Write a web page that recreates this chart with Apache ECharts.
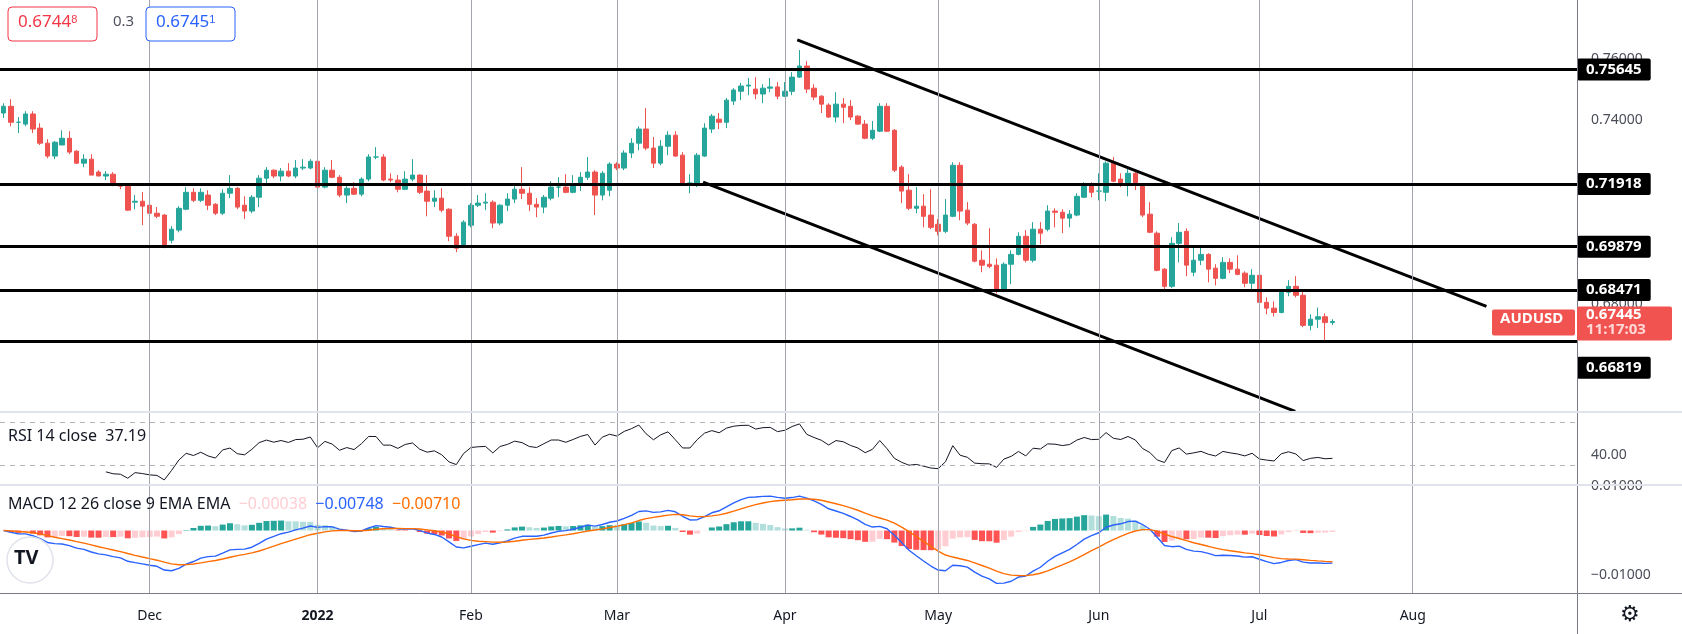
<!DOCTYPE html>
<html><head><meta charset="utf-8">
<script src="https://cdn.jsdelivr.net/npm/echarts@6/dist/echarts.min.js"></script>
<style>html,body{margin:0;padding:0;background:#fff}#c{width:1682px;height:634px}</style>
</head><body><div id="c"></div>
<script>
// ---- data: daily AUDUSD candles [open, close, low, high], from 2021-11-03 ----
const candles = [
[.7423,.7445,.7407,.7455],[.7445,.7393,.7380,.7468],[.7393,.7393,.7358,.7410],[.7387,.7420,.7380,.7429],[.7420,.7371,.7358,.7429],
[.7374,.7325,.7319,.7390],[.7325,.7283,.7276,.7338],[.7283,.7328,.7273,.7332],[.7319,.7341,.7319,.7367],[.7341,.7296,.7289,.7364],
[.7299,.7260,.7257,.7302],[.7260,.7273,.7247,.7289],[.7273,.7221,.7221,.7289],[.7231,.7218,.7218,.7237],[.7218,.7224,.7205,.7234],
[.7224,.7192,.7185,.7231],[.7192,.7185,.7175,.7195],[.7185,.7107,.7104,.7188],[.7133,.7136,.7110,.7156],[.7136,.7120,.7058,.7166],
[.7123,.7097,.7091,.7172],[.7097,.7087,.7081,.7117],[.7091,.6993,.6983,.7094],[.7009,.7045,.6999,.7055],[.7042,.7113,.7035,.7120],
[.7110,.7165,.7107,.7182],[.7165,.7139,.7133,.7178],[.7139,.7165,.7133,.7178],[.7156,.7123,.7107,.7172],[.7126,.7097,.7091,.7130],
[.7097,.7162,.7091,.7175],[.7162,.7178,.7146,.7221],[.7178,.7117,.7110,.7182],[.7123,.7104,.7078,.7152],[.7104,.7149,.7097,.7156],
[.7149,.7211,.7117,.7221],[.7211,.7237,.7192,.7247],[.7237,.7218,.7211,.7240],[.7218,.7234,.7201,.7244],[.7234,.7218,.7214,.7260],
[.7218,.7244,.7211,.7270],[.7244,.7247,.7237,.7273],[.7244,.7266,.7240,.7273],[.7266,.7182,.7178,.7270],[.7182,.7237,.7178,.7247],
[.7237,.7214,.7211,.7270],[.7214,.7156,.7149,.7221],[.7156,.7178,.7130,.7192],[.7178,.7159,.7156,.7198],[.7159,.7208,.7152,.7214],
[.7208,.7280,.7201,.7289],[.7280,.7280,.7273,.7312],[.7280,.7205,.7201,.7289],[.7208,.7205,.7198,.7227],[.7205,.7175,.7165,.7221],
[.7175,.7208,.7172,.7234],[.7208,.7221,.7201,.7273],[.7221,.7165,.7159,.7224],[.7169,.7136,.7087,.7221],[.7136,.7146,.7117,.7172],
[.7146,.7107,.7100,.7178],[.7110,.7022,.7006,.7113],[.7022,.6983,.6970,.7032],[.6990,.7068,.6986,.7074],[.7058,.7123,.7051,.7130],
[.7123,.7130,.7117,.7156],[.7130,.7133,.7107,.7162],[.7133,.7065,.7048,.7139],[.7065,.7123,.7058,.7126],[.7123,.7143,.7104,.7162],
[.7143,.7175,.7130,.7185],[.7175,.7162,.7143,.7247],[.7162,.7126,.7104,.7182],[.7126,.7117,.7084,.7146],[.7117,.7149,.7097,.7156],
[.7146,.7182,.7139,.7201],[.7182,.7182,.7149,.7214],[.7182,.7165,.7162,.7224],[.7165,.7188,.7162,.7221],[.7188,.7214,.7169,.7231],
[.7214,.7231,.7205,.7280],[.7231,.7156,.7091,.7237],[.7156,.7227,.7139,.7234],[.7172,.7257,.7152,.7263],[.7257,.7244,.7237,.7263],
[.7244,.7293,.7237,.7302],[.7293,.7325,.7276,.7341],[.7325,.7371,.7302,.7380],[.7371,.7309,.7302,.7439],[.7309,.7260,.7244,.7345],
[.7260,.7315,.7253,.7335],[.7315,.7351,.7286,.7364],[.7351,.7283,.7280,.7364],[.7286,.7195,.7188,.7296],[.7195,.7195,.7162,.7224],
[.7195,.7286,.7182,.7293],[.7283,.7374,.7280,.7390],[.7371,.7413,.7358,.7420],[.7403,.7393,.7371,.7423],[.7393,.7465,.7374,.7472],
[.7462,.7498,.7449,.7504],[.7494,.7511,.7465,.7521],[.7511,.7514,.7481,.7537],[.7501,.7485,.7468,.7540],[.7485,.7504,.7455,.7517],
[.7504,.7508,.7491,.7537],[.7508,.7478,.7468,.7524],[.7478,.7494,.7475,.7524],[.7494,.7540,.7481,.7556],[.7540,.7576,.7537,.7628],
[.7576,.7501,.7488,.7592],[.7504,.7475,.7465,.7517],[.7478,.7452,.7423,.7481],[.7449,.7410,.7407,.7455],[.7410,.7452,.7393,.7491],
[.7452,.7442,.7390,.7472],[.7445,.7410,.7400,.7465],[.7413,.7387,.7384,.7416],[.7387,.7341,.7338,.7400],[.7341,.7367,.7335,.7397],
[.7364,.7445,.7361,.7455],[.7445,.7364,.7361,.7455],[.7367,.7237,.7231,.7371],[.7247,.7169,.7130,.7253],[.7172,.7113,.7107,.7224],
[.7113,.7120,.7097,.7182],[.7120,.7087,.7051,.7159],[.7091,.7051,.7045,.7175],[.7061,.7038,.7025,.7078],[.7038,.7091,.7032,.7143],
[.7087,.7253,.7084,.7263],[.7253,.7104,.7074,.7263],[.7107,.7065,.7058,.7133],[.7061,.6941,.6937,.7065],[.6944,.6928,.6905,.6976],
[.6931,.6924,.6918,.7048],[.6928,.6843,.6836,.6950],[.6843,.6931,.6840,.6937],[.6931,.6963,.6866,.6976],[.6963,.7022,.6960,.7035],
[.7022,.6944,.6937,.7042],[.6944,.7045,.6937,.7068],[.7045,.7032,.6996,.7068],[.7045,.7104,.7038,.7123],[.7104,.7100,.7051,.7113],
[.7100,.7081,.7032,.7110],[.7081,.7094,.7051,.7107],[.7091,.7152,.7087,.7162],[.7149,.7188,.7146,.7198],[.7188,.7165,.7149,.7198],
[.7169,.7169,.7139,.7227],[.7165,.7260,.7136,.7266],[.7260,.7201,.7198,.7280],[.7208,.7188,.7182,.7227],[.7188,.7227,.7152,.7244],
[.7227,.7192,.7172,.7234],[.7192,.7091,.7084,.7195],[.7094,.7035,.7032,.7133],[.7032,.6911,.6908,.7038],[.6915,.6859,.6846,.6918],
[.6859,.6999,.6853,.7019],[.6999,.7035,.6937,.7065],[.7038,.6928,.6892,.7048],[.6905,.6944,.6892,.6990],[.6944,.6963,.6928,.6990],
[.6963,.6915,.6872,.6967],[.6918,.6885,.6862,.6931],[.6885,.6937,.6882,.6954],[.6937,.6915,.6902,.6950],[.6915,.6898,.6895,.6960],
[.6902,.6869,.6856,.6908],[.6869,.6895,.6849,.6915],[.6895,.6807,.6781,.6902],[.6807,.6788,.6768,.6823],[.6788,.6774,.6761,.6810],
[.6774,.6840,.6771,.6850],[.6840,.6859,.6827,.6879],[.6859,.6830,.6823,.6892],[.6830,.6732,.6726,.6846],[.6732,.6752,.6716,.6768],
[.6752,.6760,.6723,.6790],[.6760,.6741,.6683,.6771],[.6741,.67445,.6733,.6752]
];
const levels = [0.75645, 0.71918, 0.69879, 0.68471, 0.66819];
const upperTrend = [[108.7, 0.7661], [203.1, 0.6794]];
const lowerTrend = [[95.8, 0.7198], [176.9, 0.6452]];
const priceTicks = [0.78, 0.76, 0.74, 0.72, 0.70, 0.68, 0.66];
const rsiTicks = [40];
const macdTicks = [0.01, -0.01];
const monthNames = ['Jan','Feb','Mar','Apr','May','Jun','Jul','Aug','Sep','Oct','Nov','Dec'];
const lastPrice = 0.67445;
const rsiLast = '37.19';
const macdLegend = ['−0.00038', '−0.00748', '−0.00710'];

// ---- categories (weekdays) ----
const N = 216;
const dates = [];
{ let t = Date.UTC(2021, 10, 3);
  while (dates.length < N) { const d = new Date(t); const w = d.getUTCDay();
    if (w !== 0 && w !== 6) dates.push(d); t += 86400000; } }
const cats = dates.map(d => d.toISOString().slice(0,10));
const monthStarts = [];
for (let i = 1; i < N; i++) if (dates[i].getUTCMonth() !== dates[i-1].getUTCMonth()) monthStarts.push(i);
const msSet = new Set(monthStarts);

// ---- indicators derived from closes ----
const closes = candles.map(c => c[1]);
function ema(arr, n){ const a = 2/(n+1); const out=[]; let e=arr[0]; for (let i=0;i<arr.length;i++){ e = i===0?arr[0]:a*arr[i]+(1-a)*e; out.push(e);} return out; }
const e12 = ema(closes,12), e26 = ema(closes,26);
const macd = closes.map((_,i)=>e12[i]-e26[i]);
const sig = ema(macd,9);
const hist = macd.map((m,i)=>m-sig[i]);
const rsi = [];
{ let ag=0, al=0;
  for (let i=0;i<closes.length;i++){
    if (i===0){ rsi.push(null); continue; }
    const ch = closes[i]-closes[i-1], g=Math.max(ch,0), l=Math.max(-ch,0);
    if (i<=14){ ag+=g/14; al+=l/14; rsi.push(i===14? 100-100/(1+ag/al) : null); }
    else { ag=(ag*13+g)/14; al=(al*13+l)/14; rsi.push(100-100/(1+ag/al)); }
  } }
const histData = hist.map((h,i)=>{
  const prev = i>0?hist[i-1]:h; let col;
  if (h>=0) col = h>=prev ? '#26a69a' : '#b2dfdb'; else col = h<prev ? '#ff5252' : '#ffcdd2';
  return {value:h, itemStyle:{color:col}};
});

const FONT = 'Noto Sans';
const L = 0, R = 105;
const grids = [
  {left:L, right:R, top:0, height:412},
  {left:L, right:R, top:412, height:73},
  {left:L, right:R, top:485, height:108}
];
const catAxis = (gi, show) => ({
  type:'category', gridIndex:gi, data:cats, boundaryGap:true,
  axisLine:{show:false}, axisTick:{show:false}, splitLine:{show:false},
  axisLabel: show ? {show:true, interval:(i)=>msSet.has(i), margin:16, color:'#131722', fontSize:14, fontFamily:FONT,
    formatter:(v)=>{ const d=new Date(v+'T00:00:00Z'); return d.getUTCMonth()===0 ? '{b|'+d.getUTCFullYear()+'}' : monthNames[d.getUTCMonth()]; },
    rich:{b:{fontWeight:'bold', fontSize:14, color:'#131722', fontFamily:FONT}}} : {show:false}
});
const vLines = (gi) => ({
  type:'line', xAxisIndex:gi, yAxisIndex:gi, data:[], silent:true, symbol:'none',
  markLine:{silent:true, symbol:'none', label:{show:false}, lineStyle:{color:'#a3a6af', width:1, type:'solid'},
    data: monthStarts.map(i=>({xAxis:i}))}, z:1
});
const tickFmt = (ticks, digits) => (v) => ticks.some(t=>Math.abs(t-v)<1e-9) ? (v<0?'−':'')+Math.abs(v).toFixed(digits) : '';

const chart = echarts.init(document.getElementById('c'), null, {renderer:'canvas'});
const option = {
  animation:false, backgroundColor:'#fff',
  grid: grids,
  xAxis: [catAxis(0,false), catAxis(1,false), catAxis(2,true),
    {type:'value', gridIndex:0, min:-0.5, max:N-0.5, show:false}],
  yAxis: [
    {type:'value', gridIndex:0, position:'right', min:0.645, max:0.7791, interval:0.005, scale:true,
     axisLine:{show:false}, axisTick:{show:false}, splitLine:{show:false},
     axisLabel:{margin:14, color:'#4a4e58', fontSize:14, fontFamily:FONT, formatter:tickFmt(priceTicks,5), showMaxLabel:true}},
    {type:'value', gridIndex:1, position:'right', min:12, max:80, interval:2,
     axisLine:{show:false}, axisTick:{show:false}, splitLine:{show:false},
     axisLabel:{margin:14, color:'#4a4e58', fontSize:14, fontFamily:FONT, formatter:tickFmt(rsiTicks,2)}},
    {type:'value', gridIndex:2, position:'right', min:-0.014, max:0.0102, interval:0.002,
     axisLine:{show:false}, axisTick:{show:false}, splitLine:{show:false},
     axisLabel:{margin:14, color:'#4a4e58', fontSize:14, fontFamily:FONT, formatter:tickFmt(macdTicks,5)}}
  ],
  series: [
    vLines(0), vLines(1), vLines(2),
    {type:'candlestick', xAxisIndex:0, yAxisIndex:0, data:candles, barWidth:5, z:3,
     itemStyle:{color:'#26a69a', color0:'#ef5350', borderColor:'#26a69a', borderColor0:'#ef5350', borderWidth:1},
     markLine:{silent:true, symbol:'none', animation:false, precision:5,
       lineStyle:{color:'#000', width:3, type:'solid'},
       label:{show:true, position:'end', distance:0, formatter:(p)=>Number(p.value).toFixed(5), color:'#fff', fontWeight:'bold',
         fontSize:15, fontFamily:FONT, backgroundColor:'#000', padding:[4,9,3,9], borderRadius:2},
       data: levels.map((v,i)=> i===levels.length-1 ? {yAxis:v, label:{offset:[0,27]}} : {yAxis:v})}},
    {type:'line', xAxisIndex:3, yAxisIndex:0, data:upperTrend, symbol:'none', lineStyle:{color:'#000', width:3}, z:4, silent:true},
    {type:'line', xAxisIndex:3, yAxisIndex:0, data:lowerTrend, symbol:'none', lineStyle:{color:'#000', width:3}, z:4, silent:true},
    {type:'line', xAxisIndex:1, yAxisIndex:1, data:rsi, symbol:'none', lineStyle:{color:'#131722', width:1}, z:3,
     markLine:{silent:true, symbol:'none', label:{show:false}, lineStyle:{color:'#b2b5be', width:1, type:[5,5]},
       data:[{yAxis:70},{yAxis:30}]}},
    {type:'bar', xAxisIndex:2, yAxisIndex:2, data:histData, barWidth:6, z:2},
    {type:'line', xAxisIndex:2, yAxisIndex:2, data:macd, symbol:'none', lineStyle:{color:'#2962ff', width:1.4}, z:3},
    {type:'line', xAxisIndex:2, yAxisIndex:2, data:sig, symbol:'none', lineStyle:{color:'#ff6d00', width:1.4}, z:3}
  ]
};
chart.setOption(option);

const yp = chart.convertToPixel({yAxisIndex:0}, lastPrice);
const AX = 1577;
chart.setOption({graphic:[
  {type:'line', shape:{x1:AX+0.5,y1:0,x2:AX+0.5,y2:634}, style:{stroke:'#787b86', lineWidth:1}, z:50},
  {type:'line', shape:{x1:0,y1:412,x2:1682,y2:412}, style:{stroke:'#e0e3eb', lineWidth:2}, z:50},
  {type:'line', shape:{x1:0,y1:485,x2:1682,y2:485}, style:{stroke:'#e0e3eb', lineWidth:2}, z:50},
  {type:'line', shape:{x1:0,y1:593.5,x2:1682,y2:593.5}, style:{stroke:'#787b86', lineWidth:1}, z:50},
  {type:'rect', shape:{x:AX, y:yp-15, width:95, height:34, r:2}, style:{fill:'#f05350'}, z:60},
  {type:'text', left:AX+9, top:yp-14, style:{text:lastPrice.toFixed(5), fill:'#fff', font:'bold 15px "Noto Sans"'}, z:61},
  {type:'text', left:AX+9, top:yp+1, style:{text:'11:17:03', fill:'#ffd7d6', font:'bold 15px "Noto Sans"'}, z:61},
  {type:'rect', shape:{x:1492, y:yp-12, width:83, height:26, r:2}, style:{fill:'#f05350'}, z:60},
  {type:'text', left:1500, top:yp-10, style:{text:'AUDUSD', fill:'#fff', font:'bold 15px "Noto Sans"'}, z:61},
  {type:'rect', shape:{x:8, y:7, width:89, height:34, r:4}, style:{fill:'#fff', stroke:'#f23645', lineWidth:1}, z:60},
  {type:'text', left:18, top:14, style:{text:'0.6744{s|8}', rich:{s:{fontSize:11, fill:'#f23645', verticalAlign:'top', padding:[0,0,6,0]}}, fill:'#f23645', font:'17px "Noto Sans"'}, z:61},
  {type:'text', left:113, top:14, style:{text:'0.3', fill:'#50535e', font:'15px "Noto Sans"'}, z:61},
  {type:'rect', shape:{x:146, y:7, width:89, height:34, r:4}, style:{fill:'#fff', stroke:'#2962ff', lineWidth:1}, z:60},
  {type:'text', left:156, top:14, style:{text:'0.6745{s|1}', rich:{s:{fontSize:11, fill:'#2962ff', verticalAlign:'top', padding:[0,0,6,0]}}, fill:'#2962ff', font:'17px "Noto Sans"'}, z:61},
  {type:'text', left:8, top:428, style:{text:'RSI 14 close  {v|'+rsiLast+'}', fill:'#131722', font:'16px "Noto Sans"',
     rich:{v:{fill:'#131722', fontSize:16, fontFamily:FONT}}}, z:61},
  {type:'text', left:8, top:496, style:{text:'MACD 12 26 close 9 EMA EMA  {a|'+macdLegend[0]+'}  {b|'+macdLegend[1]+'}  {c|'+macdLegend[2]+'}',
     fill:'#131722', font:'16px "Noto Sans"',
     rich:{a:{fill:'#ffcdd2', fontSize:16, fontFamily:FONT}, b:{fill:'#2962ff', fontSize:16, fontFamily:FONT}, c:{fill:'#ff6d00', fontSize:16, fontFamily:FONT}}}, z:61},
  {type:'circle', shape:{cx:30, cy:560, r:23}, style:{fill:'#fff', stroke:'#e0e3eb', lineWidth:1.5}, z:60},
  {type:'text', left:14, top:548, style:{text:'TV', fill:'#131722', font:'bold 20px "Noto Sans"'}, z:61},
  {type:'text', left:1620, top:604, style:{text:'⚙', fill:'#131722', font:'22px "DejaVu Sans"'}, z:61}
]});
</script></body></html>
